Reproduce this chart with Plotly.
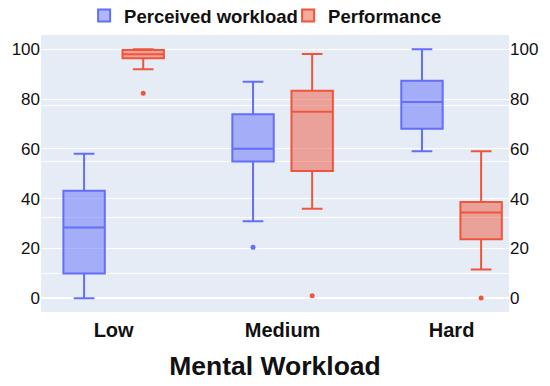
import plotly.graph_objects as go

categories = ["Low", "Medium", "Hard"]

# Perceived workload box statistics
pw_q1 = [10.0, 54.9, 68.1]
pw_median = [28.4, 60.0, 78.8]
pw_q3 = [43.2, 73.9, 87.3]
pw_lower = [0.0, 30.9, 59.0]
pw_upper = [58.0, 86.9, 100.0]
pw_outliers = [[None], [20.5], [None]]

# Performance box statistics
pf_q1 = [96.4, 51.1, 23.7]
pf_median = [98.0, 74.9, 34.4]
pf_q3 = [99.7, 83.3, 38.7]
pf_lower = [92.0, 35.9, 11.6]
pf_upper = [100.0, 98.1, 59.0]
pf_outliers = [[82.3], [1.0], [0.1]]

y_ticks = [0, 20, 40, 60, 80, 100]

BLUE = "#636EFA"
RED = "#EF553B"

fig = go.Figure()
fig.add_trace(go.Box(
    name="Perceived workload", x=categories, y=pw_outliers,
    q1=pw_q1, median=pw_median, q3=pw_q3,
    lowerfence=pw_lower, upperfence=pw_upper,
    boxpoints="outliers", marker=dict(color=BLUE, size=5),
    line=dict(color=BLUE, width=2),
))
fig.add_trace(go.Box(
    name="Performance", x=categories, y=pf_outliers,
    q1=pf_q1, median=pf_median, q3=pf_q3,
    lowerfence=pf_lower, upperfence=pf_upper,
    boxpoints="outliers", marker=dict(color=RED, size=5),
    line=dict(color=RED, width=2),
))
# helper traces so the overlay axes are drawn
fig.add_trace(go.Scatter(x=[categories[0]], y=[None], yaxis="y2", showlegend=False,
                         hoverinfo="skip", mode="markers"))
fig.add_trace(go.Scatter(x=[categories[0]], y=[None], yaxis="y3", showlegend=False,
                         hoverinfo="skip", mode="markers"))

tick_font = dict(family="Arial", size=17, color="#111111")

fig.update_layout(
    width=550, height=386,
    template="plotly",
    boxmode="group",
    margin=dict(l=41, r=41, t=35, b=74, autoexpand=False),
    font=dict(family="Arial", color="#111111"),
    legend=dict(orientation="h", x=0.528, xanchor="center", y=1.0, yanchor="bottom",
                entrywidth=159,
                font=dict(family="Arial", size=18.5, color="#111111", weight="bold")),
    xaxis=dict(type="category", range=[-0.43, 2.34], ticklabelstandoff=4,
               tickfont=dict(family="Arial", size=20, color="#111111", weight="bold"),
               title=dict(text="Mental Workload", standoff=16,
                          font=dict(family="Arial", size=26.5, color="#111111", weight="bold"))),
    yaxis=dict(range=[-5.5, 105.7], tickvals=y_ticks, tickfont=tick_font),
    yaxis2=dict(range=[-5.5, 105.7], tickvals=y_ticks, tickfont=tick_font,
                overlaying="y", side="right", showgrid=False, zeroline=False),
    yaxis3=dict(range=[6.4, 105.1], dtick=20, overlaying="y", side="right",
                showticklabels=False, showgrid=True, zeroline=False),
)

fig.write_html("out.html", config={"displayModeBar": False},
               post_script="document.body.style.margin='0';")
